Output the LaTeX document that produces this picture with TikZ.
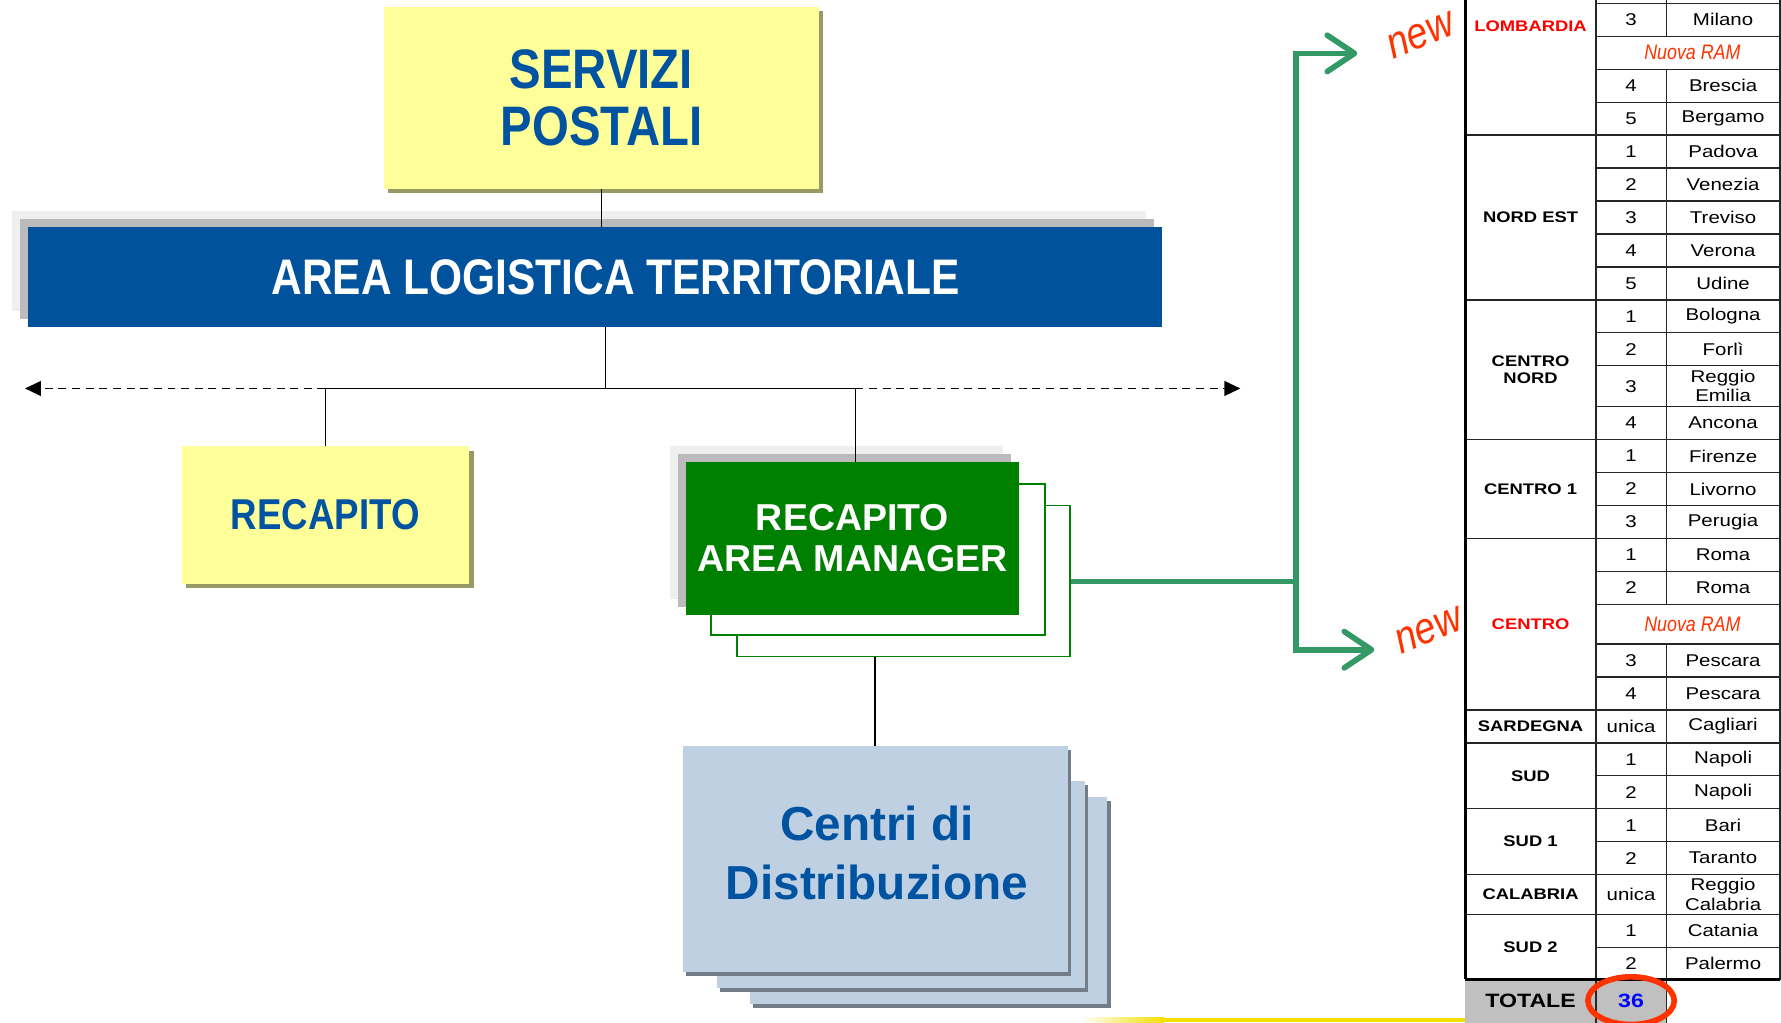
\documentclass[tikz,border=0pt]{standalone}
\usepackage{fontspec}
\setmainfont{Liberation Sans}
\newfontfamily\narrowsans[FakeStretch=0.85]{Liberation Sans}
\newfontfamily\tablesans[FakeStretch=1.2]{Liberation Sans}
\usetikzlibrary{arrows.meta,shadows}

\definecolor{postyellow}{HTML}{FFFF99}
\definecolor{postolive}{HTML}{999966}
\definecolor{postblue}{HTML}{0053A0}
\definecolor{altblue}{HTML}{00529C}
\definecolor{layerlight}{HTML}{EFEFEF}
\definecolor{layergray}{HTML}{BBBBBB}
\definecolor{ramgreen}{HTML}{008000}
\definecolor{arrowgreen}{HTML}{339966}
\definecolor{cdblue}{HTML}{BFD0E2}
\definecolor{cdshadow}{HTML}{737D8A}
\definecolor{newred}{HTML}{FF3300}
\definecolor{totalgray}{HTML}{C0C0C0}
\definecolor{stripyellow}{HTML}{F2DF00}

\begin{document}
\begin{tikzpicture}[x=1pt, y=-1pt,
            every node/.style = {inner sep=0pt, align=center},
            yellowbox/.style = {fill=postyellow, text=postblue,
                general shadow={fill=postolive, shadow xshift=4pt, shadow yshift=-4pt}},
            layered/.style = {general shadow={fill=layerlight, shadow xshift=-14pt, shadow yshift=14pt},
                general shadow={fill=layergray, shadow xshift=-7pt, shadow yshift=7pt}},
            ramcopy/.style = {fill=white, draw=ramgreen, line width=1.5pt},
            cdbox/.style = {fill=cdblue,
                general shadow={fill=cdshadow, shadow xshift=3pt, shadow yshift=-3pt}},
            wire/.style = {line width=1.3pt},
            side/.style = {wire, dash pattern=on 7pt off 5pt, -{Triangle[length=14pt,width=13pt]}},
            flow/.style = {draw=arrowgreen, line width=5pt},
            flowtip/.style = {flow, -{Straight Barb[length=24pt,width=32pt,round]}},
            newtag/.style = {text=newred, rotate=22, font=\narrowsans\itshape\fontsize{39}{39}\selectfont},
            grid/.style = {draw=black!85, line width=1.2pt},
            cell/.style = {font=\tablesans\fontsize{15}{17}\selectfont},
            region/.style = {font=\tablesans\bfseries\fontsize{13.5}{15}\selectfont},
            ramnote/.style = {text=newred, font=\narrowsans\itshape\fontsize{18.5}{18.5}\selectfont}]
            \useasboundingbox (0,0) rectangle (1568,900);
            \clip (0,0) rectangle (1568,900);

            % organigramma
            \node[fill=altblue, layered, minimum width=998pt, minimum height=88pt] (alt) at (524,244) {};
            \node[text=white, font=\narrowsans\bfseries\fontsize{44}{44}\selectfont] (alttext) at (542,244)
                {AREA LOGISTICA TERRITORIALE};
            \node[yellowbox, minimum width=383pt, minimum height=160pt,
                font=\narrowsans\bfseries\fontsize{49}{50}\selectfont] (servizi) at (529.5,86) {SERVIZI\\POSTALI};
            \node[yellowbox, minimum width=253pt, minimum height=121pt,
                font=\narrowsans\bfseries\fontsize{38}{40}\selectfont] (recapito) at (286.5,453.5) {RECAPITO};
            \node[ramcopy, minimum width=293pt, minimum height=133pt] (ram3) at (795.5,511.5) {};
            \node[ramcopy, minimum width=294pt, minimum height=133pt] (ram2) at (773,492.5) {};
            \node[fill=ramgreen, layered, text=white, minimum width=293pt, minimum height=134pt,
                font=\bfseries\fontsize{33}{36}\selectfont] (ram) at (750.5,474) {RECAPITO\\AREA MANAGER};
            \node[cdbox, minimum width=315pt, minimum height=182pt] (cd3) at (817.5,793) {};
            \node[cdbox, minimum width=324pt, minimum height=182pt] (cd2) at (793,779) {};
            \node[cdbox, minimum width=339pt, minimum height=199pt] (cd) at (770.5,756.5) {};
            \node[text=postblue, font=\bfseries\fontsize{42}{52}\selectfont] (cdtext) at (772,751)
                {Centri di\\Distribuzione};

            % collegamenti
            \coordinate (hub) at (533,342);
            \coordinate (ramtap) at (753,342);
            \coordinate (barL) at (22,342);
            \coordinate (barR) at (1092,342);
            \draw[wire] (servizi.south) -- (servizi.south |- alt.north);
            \draw[wire] (hub |- alt.south) -- (hub);
            \draw[wire] (recapito.north |- hub) -- (ramtap);
            \draw[wire] (recapito.north |- hub) -- (recapito.north);
            \draw[wire] (ramtap) -- (ramtap |- ram.north);
            \draw[side] (recapito.north |- hub) -- (barL);
            \draw[side] (ramtap) -- (barR);
            \draw[wire] (cd.north |- ram3.south) -- (cd.north);

            % frecce verdi
            \coordinate (fork) at (1141,512);
            \coordinate (newtop) at (1195,47);
            \coordinate (newbottom) at (1210,572);
            \draw[flow] (ram3.east |- fork) -- (fork);
            \draw[flowtip] (fork) |- (newtop);
            \draw[flowtip] (fork) |- (newbottom);

            % tabella
            \foreach \t/\b/\n/\c [count=\i] in {-10/3//, 3/32/3/Milano, 61/90/4/Brescia, 90/119/5/Bergamo,
                119/148/1/Padova, 148/177/2/Venezia, 177/206/3/Treviso, 206/235/4/Verona, 235/264/5/Udine,
                264/293/1/Bologna, 293/322/2/Forlì, 322/358/3/{Reggio\\Emilia}, 358/387/4/Ancona,
                387/416/1/Firenze, 416/445/2/Livorno, 445/474/3/Perugia, 474/503/1/Roma, 503/532/2/Roma,
                567/596/3/Pescara, 596/625/4/Pescara, 625/654/unica/Cagliari, 654/683/1/Napoli,
                683/712/2/Napoli, 712/741/1/Bari, 741/770/2/Taranto, 770/805/unica/{Reggio\\Calabria},
                805/834/1/Catania, 834/862/2/Palermo}
            {
                \draw[grid] (1405,\t) rectangle (1467,\b) (1467,\t) rectangle (1567,\b);
                \node[cell] (num\i) at (1436,{(\t+\b)/2}) {\n};
                \node[cell] (city\i) at (1517,{(\t+\b)/2}) {\c};
            }
            \foreach \t/\b [count=\i] in {32/61, 532/567}
            {
                \draw[grid] (1405,\t) rectangle (1567,\b);
                \node[ramnote] (ramnote\i) at (1490,{(\t+\b)/2}) {Nuova RAM};
            }
            \foreach \t/\b/\r/\col [count=\i] in {-73/119/LOMBARDIA/red, 119/264/NORD EST/black,
                264/387/{CENTRO\\NORD}/black, 387/474/CENTRO 1/black, 474/625/CENTRO/red,
                625/654/SARDEGNA/black, 654/712/SUD/black, 712/770/SUD 1/black,
                770/805/CALABRIA/black, 805/862/SUD 2/black}
            {
                \draw[grid] (1290,\t) rectangle (1405,\b);
                \node[region, text=\col] (region\i) at (1347.5,{(\t+\b)/2}) {\r};
            }
            \draw[line width=2.5pt] (1290,0) -- (1290,862);
            \fill[totalgray] (1290,862) rectangle (1467,905);
            \draw[grid] (1405,862) -- (1405,905) (1467,862) -- (1467,905);
            \draw[line width=2.5pt] (1290,862) -- (1567,862);
            \node[font=\tablesans\bfseries\fontsize{17}{17}\selectfont] (totale) at (1347.5,881) {TOTALE};
            \node[text=blue, font=\tablesans\bfseries\fontsize{17}{17}\selectfont] (total) at (1436,881) {36};
            \draw[newred, line width=5pt] (total) ellipse [x radius=38, y radius=21];

            % scritte new
            \node[newtag] (newA) at (1251,31) {new};
            \node[newtag] (newB) at (1258,555) {new};

            % striscia gialla
            \shade[left color=white, right color=stripyellow] (951,896) rectangle (1025,900);
            \fill[stripyellow] (1025,896) rectangle (1290,900);
        \end{tikzpicture}
\end{document}
